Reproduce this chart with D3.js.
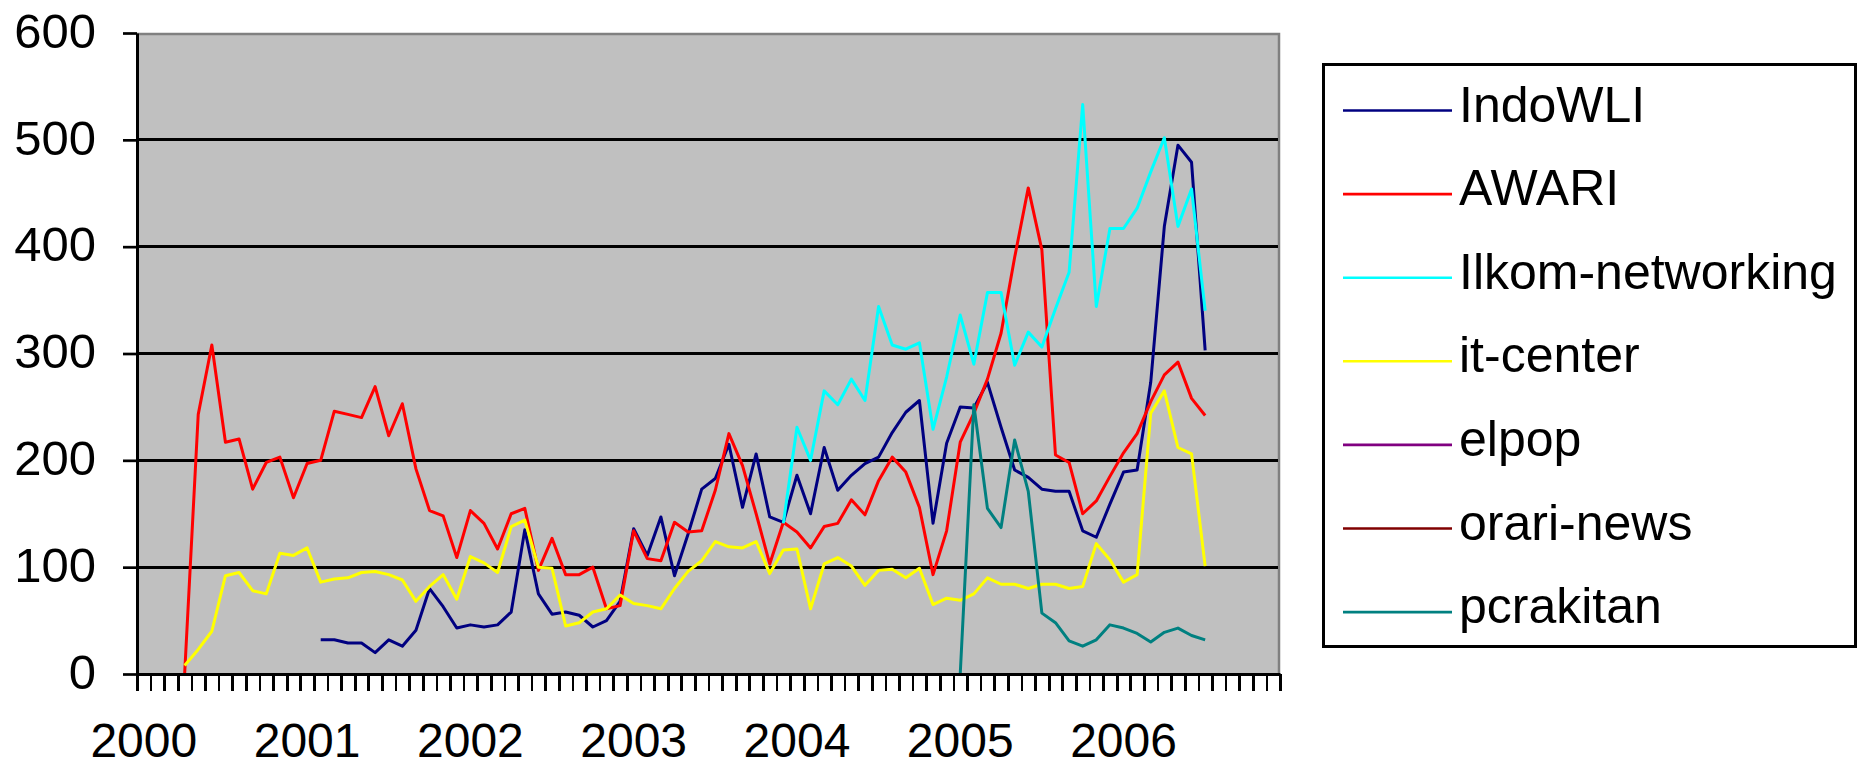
<!DOCTYPE html>
<html>
<head>
<meta charset="utf-8">
<script src="https://d3js.org/d3.v7.min.js"></script>
<style>
  body { margin: 0; background: #fff; }
  svg { display: block; }
</style>
</head>
<body>
<svg id="chart" width="1858" height="768"></svg>
<script>
// x axis: one category per month, Jan 2000 .. Dec 2006
const years = ["2000", "2001", "2002", "2003", "2004", "2005", "2006"];
const yTicks = [0, 100, 200, 300, 400, 500, 600];

// month index (0 = Jan 2000) of the first value of each series
const indoWLIStart = 13;   // Feb 2001
const awariStart = 3;      // Apr 2000
const ilkomStart = 47;     // Dec 2003
const itCenterStart = 3;   // Apr 2000
const elpopStart = 0;
const orariStart = 0;
const pcrakitanStart = 60; // Jan 2005

const indoWLI = [32, 32, 29, 29, 20, 32, 26, 41, 80, 63, 43, 46, 44, 46, 58, 135, 75, 56, 58, 55,
  44, 50, 68, 136, 111, 147, 92, 131, 173, 183, 215, 156, 206, 147, 142, 186, 150, 212, 172, 186,
  197, 203, 226, 245, 256, 141, 216, 250, 249, 273, 231, 191, 184, 173, 171, 171, 134, 128, 159, 189,
  191, 273, 419, 495, 479, 303];

const awari = [0, 243, 308, 217, 220, 173, 198, 203, 165, 197, 200, 246, 243, 240, 269, 223, 253, 192,
  153, 148, 109, 153, 141, 117, 150, 155, 97, 127, 93, 93, 100, 61, 64, 134, 108, 106, 142, 133, 134,
  172, 225, 195, 150, 103, 142, 133, 118, 138, 141, 163, 149, 181, 203, 189, 156, 93, 134, 217, 244,
  276, 319, 390, 455, 397, 205, 198, 150, 162, 185, 207, 225, 255, 280, 292, 258, 242];

const ilkom = [141, 231, 200, 265, 252, 276, 256, 344, 308, 304, 310, 229, 278, 336, 290, 357, 357,
  289, 320, 306, 342, 376, 533, 344, 417, 417, 436, 470, 502, 419, 454, 340];

const itCenter = [8, 23, 40, 92, 95, 78, 75, 113, 111, 118, 86, 89, 90, 95, 96, 93, 88, 68, 82, 93,
  70, 110, 104, 95, 138, 144, 100, 99, 45, 48, 58, 61, 74, 66, 64, 61, 80, 96, 106, 124, 119, 118,
  124, 94, 116, 117, 61, 103, 109, 101, 83, 97, 98, 90, 99, 65, 71, 69, 75, 90, 84, 84, 80, 84, 84,
  80, 82, 122, 107, 86, 93, 244, 265, 212, 206, 101];

const elpop = [];
const orariNews = [];

const pcrakitan = [0, 252, 155, 137, 219, 171, 57, 48, 31, 26, 32, 46, 43, 38, 30, 39, 43, 36, 32];

const seriesNames = ["IndoWLI", "AWARI", "Ilkom-networking", "it-center", "elpop", "orari-news", "pcrakitan"];
const seriesColors = ["#000080", "#ff0000", "#00ffff", "#ffff00", "#800080", "#800000", "#008080"];
const seriesValues = [indoWLI, awari, ilkom, itCenter, elpop, orariNews, pcrakitan];
const seriesStarts = [indoWLIStart, awariStart, ilkomStart, itCenterStart, elpopStart, orariStart, pcrakitanStart];

const font = "'Liberation Sans', Arial, sans-serif";
const plot = { left: 137, top: 33, right: 1280, bottom: 674 };
const nMonths = years.length * 12;

const svg = d3.select("#chart");

const x = d3.scaleLinear().domain([0, nMonths]).range([plot.left, plot.right]);
const y = d3.scaleLinear().domain([0, 600]).range([plot.bottom, plot.top]);

// plot area
svg.append("rect")
  .attr("x", plot.left)
  .attr("y", plot.top)
  .attr("width", plot.right - plot.left)
  .attr("height", plot.bottom - plot.top)
  .attr("fill", "#c0c0c0");

svg.append("path")
  .attr("d", `M${plot.left},${plot.top + 1}H${plot.right - 1}V${plot.bottom}`)
  .attr("fill", "none")
  .attr("stroke", "#808080")
  .attr("stroke-width", 2.5);

// gridlines
svg.append("g")
  .selectAll("line")
  .data(yTicks.filter((d) => d > 0 && d < 600))
  .join("line")
  .attr("x1", plot.left)
  .attr("x2", plot.right - 2)
  .attr("y1", (d) => y(d))
  .attr("y2", (d) => y(d))
  .attr("stroke", "#000")
  .attr("stroke-width", 2.7)
  .attr("shape-rendering", "crispEdges");

// lines
const line = d3.line()
  .x((d) => x(d.i + 0.5))
  .y((d) => y(d.v));

const linesLayer = svg.append("g").attr("id", "lines");
seriesValues.forEach((vals, k) => {
  const pts = vals.map((v, j) => ({ i: seriesStarts[k] + j, v: v }));
  if (!pts.length) return;
  linesLayer.append("path")
    .datum(pts)
    .attr("d", line)
    .attr("fill", "none")
    .attr("stroke", seriesColors[k])
    .attr("stroke-width", 3)
    .attr("stroke-linejoin", "round");
});

// y axis
const yAxis = svg.append("g")
  .attr("transform", `translate(${plot.left},0)`)
  .call(d3.axisLeft(y).tickValues(yTicks).tickSize(14).tickSizeOuter(0).tickPadding(27));
yAxis.select(".domain").attr("stroke", "#000").attr("stroke-width", 3);
yAxis.selectAll(".tick line").attr("stroke", "#000").attr("stroke-width", 2.7);
yAxis.selectAll(".tick text")
  .attr("font-family", font)
  .attr("font-size", 49)
  .attr("fill", "#000")
  .attr("dy", "0.29em");

// x axis, a tick at every month boundary
const xAxis = svg.append("g")
  .attr("transform", `translate(0,${plot.bottom})`)
  .call(d3.axisBottom(x).tickValues(d3.range(nMonths + 1)).tickSize(17).tickSizeOuter(0).tickFormat(""));
xAxis.select(".domain").attr("stroke", "#000").attr("stroke-width", 3);
xAxis.selectAll(".tick line")
  .attr("stroke", "#000")
  .attr("stroke-width", 2.7)
  .attr("shape-rendering", "crispEdges");

svg.append("g")
  .selectAll("text")
  .data(years)
  .join("text")
  .attr("x", (d, k) => x(k * 12 + 0.5))
  .attr("y", 757)
  .attr("text-anchor", "middle")
  .attr("font-family", font)
  .attr("font-size", 48)
  .attr("fill", "#000")
  .text((d) => d);

// legend
const legend = svg.append("g").attr("id", "legend");
legend.append("rect")
  .attr("x", 1323.5)
  .attr("y", 64.5)
  .attr("width", 532)
  .attr("height", 582)
  .attr("fill", "#fff")
  .attr("stroke", "#000")
  .attr("stroke-width", 3);

const items = legend.selectAll("g.item")
  .data(seriesNames)
  .join("g")
  .attr("class", "item")
  .attr("transform", (d, k) => `translate(0,${110.5 + k * 83.6})`);

items.append("line")
  .attr("x1", 1343)
  .attr("x2", 1452)
  .attr("stroke", (d, k) => seriesColors[k])
  .attr("stroke-width", 2.6);

items.append("text")
  .attr("x", 1459)
  .attr("y", 11)
  .attr("font-family", font)
  .attr("font-size", 50)
  .attr("fill", "#000")
  .text((d) => d);
</script>
</body>
</html>
